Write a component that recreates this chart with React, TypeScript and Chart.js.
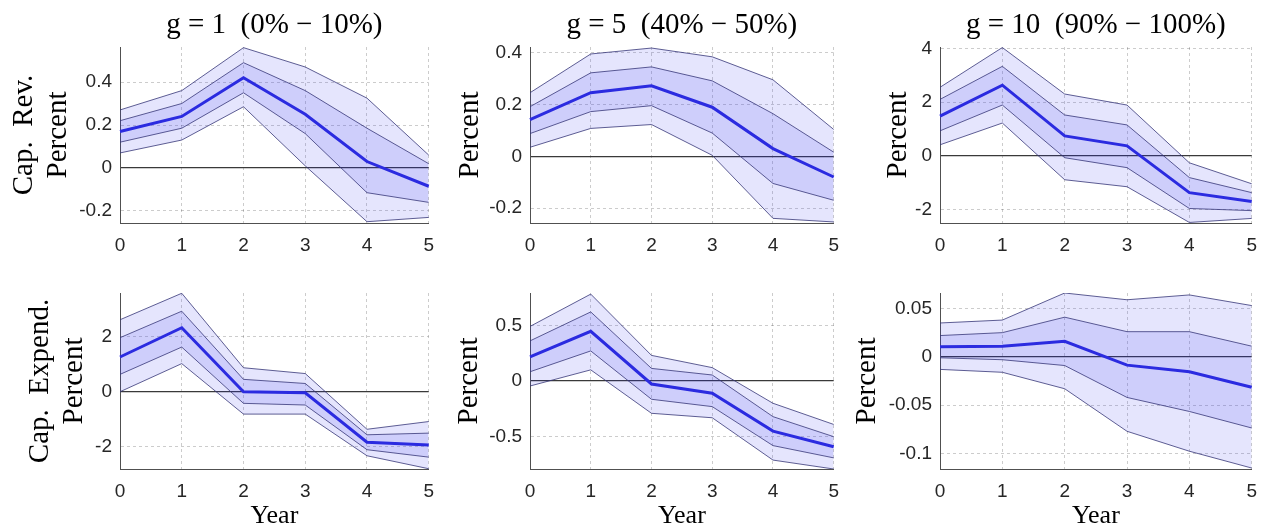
import React, { useEffect, useRef } from 'react';
import { Chart, registerables } from 'chart.js';

Chart.register(...registerables);

// ---------------- data ----------------
const YEARS = ['0', '1', '2', '3', '4', '5'];

const COLUMN_TITLES = ['g = 1  (0% − 10%)', 'g = 5  (40% − 50%)', 'g = 10  (90% − 100%)'];
const ROW_LABELS_REV = ['Cap.  Rev.', 'Percent'];
const ROW_LABELS_EXP = ['Cap.  Expend.', 'Percent'];
const PERCENT_LABEL = ['Percent'];
const X_LABEL = 'Year';

// Capital revenue, g = 1
const REV_G1_OUTER_HI = [0.27, 0.36, 0.56, 0.47, 0.325, 0.06];
const REV_G1_INNER_HI = [0.22, 0.30, 0.49, 0.36, 0.185, 0.02];
const REV_G1_MEAN = [0.17, 0.24, 0.42, 0.25, 0.03, -0.085];
const REV_G1_INNER_LO = [0.12, 0.185, 0.35, 0.16, -0.115, -0.16];
const REV_G1_OUTER_LO = [0.07, 0.13, 0.285, 0.01, -0.25, -0.23];
const REV_G1_LIMITS = [-0.256, 0.563];
const REV_G1_TICKS = [-0.2, 0, 0.2, 0.4];

// Capital revenue, g = 5
const REV_G5_OUTER_HI = [0.246, 0.396, 0.419, 0.385, 0.296, 0.104];
const REV_G5_INNER_HI = [0.192, 0.323, 0.346, 0.292, 0.165, 0.016];
const REV_G5_MEAN = [0.142, 0.246, 0.273, 0.19, 0.03, -0.08];
const REV_G5_INNER_LO = [0.088, 0.173, 0.196, 0.09, -0.105, -0.17];
const REV_G5_OUTER_LO = [0.035, 0.108, 0.123, 0.004, -0.24, -0.254];
const REV_G5_LIMITS = [-0.258, 0.423];
const REV_G5_TICKS = [-0.2, 0, 0.2, 0.4];

// Capital revenue, g = 10
const REV_G10_OUTER_HI = [2.55, 4.03, 2.3, 1.89, -0.26, -1.04];
const REV_G10_INNER_HI = [2.1, 3.33, 1.52, 1.15, -0.81, -1.37];
const REV_G10_MEAN = [1.48, 2.63, 0.74, 0.37, -1.37, -1.7];
const REV_G10_INNER_LO = [0.93, 1.89, -0.07, -0.44, -1.96, -2.04];
const REV_G10_OUTER_LO = [0.41, 1.22, -0.89, -1.15, -2.48, -2.33];
const REV_G10_LIMITS = [-2.5, 4.05];
const REV_G10_TICKS = [-2, 0, 2, 4];

// Capital expenditure, g = 1
const EXP_G1_OUTER_HI = [2.61, 3.57, 0.87, 0.66, -1.36, -1.08];
const EXP_G1_INNER_HI = [1.96, 2.92, 0.45, 0.3, -1.56, -1.5];
const EXP_G1_MEAN = [1.26, 2.32, 0.0, -0.04, -1.83, -1.93];
const EXP_G1_INNER_LO = [0.63, 1.62, -0.42, -0.48, -2.1, -2.37];
const EXP_G1_OUTER_LO = [0.0, 1.02, -0.81, -0.81, -2.32, -2.79];
const EXP_G1_LIMITS = [-2.8, 3.58];
const EXP_G1_TICKS = [-2, 0, 2];

// Capital expenditure, g = 5
const EXP_G5_OUTER_HI = [0.49, 0.78, 0.23, 0.12, -0.2, -0.39];
const EXP_G5_INNER_HI = [0.36, 0.62, 0.113, 0.054, -0.32, -0.5];
const EXP_G5_MEAN = [0.217, 0.446, -0.027, -0.11, -0.45, -0.59];
const EXP_G5_INNER_LO = [0.083, 0.27, -0.164, -0.23, -0.58, -0.69];
const EXP_G5_OUTER_LO = [-0.045, 0.1, -0.29, -0.33, -0.71, -0.79];
const EXP_G5_LIMITS = [-0.79, 0.79];
const EXP_G5_TICKS = [-0.5, 0, 0.5];

// Capital expenditure, g = 10
const EXP_G10_OUTER_HI = [0.035, 0.038, 0.066, 0.059, 0.064, 0.053];
const EXP_G10_INNER_HI = [0.022, 0.025, 0.041, 0.026, 0.026, 0.011];
const EXP_G10_MEAN = [0.0103, 0.011, 0.016, -0.0086, -0.0154, -0.0315];
const EXP_G10_INNER_LO = [-0.001, -0.003, -0.009, -0.042, -0.0565, -0.0736];
const EXP_G10_OUTER_LO = [-0.013, -0.016, -0.033, -0.077, -0.0976, -0.115];
const EXP_G10_LIMITS = [-0.116, 0.066];
const EXP_G10_TICKS = [-0.1, -0.05, 0, 0.05];

// ---------------- layout & style ----------------
const COL_CANVAS_X = [[0, 445], [445, 850], [850, 1268]];
const COL_PLOT_X = [[120, 430], [530, 841], [940, 1252]];
const ROW_CANVAS_Y = [[0, 258], [258, 531]];
const ROW_PLOT_Y = [[47, 223], [293, 469]];
const YTITLE_CENTER_X = [[24, 470, 898], [40, 469, 867]];

const SERIF = '"Liberation Serif", "Times New Roman", serif';
const SANS = '"Liberation Sans", Arial, Helvetica, sans-serif';
const BAND_FILL = 'rgba(45, 45, 235, 0.12)';
const BAND_EDGE = 'rgba(55, 55, 120, 0.8)';
const MEAN_COLOR = '#2b2be0';
const GRID_COLOR = 'rgba(0, 0, 0, 0.2)';
const ZERO_COLOR = '#3a3a3a';
const AXIS_COLOR = '#505050';
const TICK_COLOR = '#262626';
const YTITLE_LINE = 34;

type PanelSpec = {
  row: number;
  col: number;
  yLabel: string[];
  outerHi: number[];
  innerHi: number[];
  mean: number[];
  innerLo: number[];
  outerLo: number[];
  limits: number[];
  ticks: number[];
};

const PANELS: PanelSpec[] = [
  { row: 0, col: 0, yLabel: ROW_LABELS_REV, outerHi: REV_G1_OUTER_HI, innerHi: REV_G1_INNER_HI, mean: REV_G1_MEAN, innerLo: REV_G1_INNER_LO, outerLo: REV_G1_OUTER_LO, limits: REV_G1_LIMITS, ticks: REV_G1_TICKS },
  { row: 0, col: 1, yLabel: PERCENT_LABEL, outerHi: REV_G5_OUTER_HI, innerHi: REV_G5_INNER_HI, mean: REV_G5_MEAN, innerLo: REV_G5_INNER_LO, outerLo: REV_G5_OUTER_LO, limits: REV_G5_LIMITS, ticks: REV_G5_TICKS },
  { row: 0, col: 2, yLabel: PERCENT_LABEL, outerHi: REV_G10_OUTER_HI, innerHi: REV_G10_INNER_HI, mean: REV_G10_MEAN, innerLo: REV_G10_INNER_LO, outerLo: REV_G10_OUTER_LO, limits: REV_G10_LIMITS, ticks: REV_G10_TICKS },
  { row: 1, col: 0, yLabel: ROW_LABELS_EXP, outerHi: EXP_G1_OUTER_HI, innerHi: EXP_G1_INNER_HI, mean: EXP_G1_MEAN, innerLo: EXP_G1_INNER_LO, outerLo: EXP_G1_OUTER_LO, limits: EXP_G1_LIMITS, ticks: EXP_G1_TICKS },
  { row: 1, col: 1, yLabel: PERCENT_LABEL, outerHi: EXP_G5_OUTER_HI, innerHi: EXP_G5_INNER_HI, mean: EXP_G5_MEAN, innerLo: EXP_G5_INNER_LO, outerLo: EXP_G5_OUTER_LO, limits: EXP_G5_LIMITS, ticks: EXP_G5_TICKS },
  { row: 1, col: 2, yLabel: PERCENT_LABEL, outerHi: EXP_G10_OUTER_HI, innerHi: EXP_G10_INNER_HI, mean: EXP_G10_MEAN, innerLo: EXP_G10_INNER_LO, outerLo: EXP_G10_OUTER_LO, limits: EXP_G10_LIMITS, ticks: EXP_G10_TICKS },
];

function Panel({ spec }: { spec: PanelSpec }) {
  const ref = useRef<HTMLCanvasElement | null>(null);
  const { row, col } = spec;
  const [cx0, cx1] = COL_CANVAS_X[col];
  const [cy0, cy1] = ROW_CANVAS_Y[row];
  const [px0, px1] = COL_PLOT_X[col];
  const [py0, py1] = ROW_PLOT_Y[row];
  const w = cx1 - cx0;
  const h = cy1 - cy0;

  useEffect(() => {
    if (!ref.current) return;
    const padLeft = Math.max(0, YTITLE_CENTER_X[row][col] - cx0 - YTITLE_LINE / 2);
    const yWidth = px0 - cx0 - padLeft;
    const xHeight = cy1 - py1;
    const isZero = (c: any) => c && c.tick && Math.abs(c.tick.value) < 1e-12;

    const edge = { borderColor: BAND_EDGE, borderWidth: 1, pointRadius: 0, tension: 0 };
    const chart = new Chart(ref.current, {
      type: 'line',
      data: {
        labels: YEARS,
        datasets: [
          { ...edge, data: spec.outerHi, fill: 1, backgroundColor: BAND_FILL, order: 5 },
          { ...edge, data: spec.outerLo, fill: false, order: 4 },
          { ...edge, data: spec.innerHi, fill: 3, backgroundColor: BAND_FILL, order: 3 },
          { ...edge, data: spec.innerLo, fill: false, order: 2 },
          { data: spec.mean, borderColor: MEAN_COLOR, borderWidth: 3, pointRadius: 0, tension: 0, fill: false, order: 1 },
        ],
      },
      options: {
        animation: false,
        responsive: false,
        events: [],
        layout: {
          padding: {
            left: padLeft,
            right: cx1 - px1,
            top: row === 0 ? 0 : py0 - cy0,
            bottom: 0,
          },
        },
        plugins: {
          legend: { display: false },
          tooltip: { enabled: false },
          title: {
            display: row === 0,
            text: COLUMN_TITLES[col],
            fullSize: false,
            color: '#000',
            font: { family: SERIF, size: 29, weight: 'normal', lineHeight: '30px' },
            padding: { top: 10, bottom: py0 - cy0 - 40 },
          },
        },
        scales: {
          x: {
            type: 'category',
            offset: false,
            grid: { color: GRID_COLOR, drawTicks: false, lineWidth: 1 },
            border: { display: true, color: AXIS_COLOR, width: 1, dash: [3, 3] },
            ticks: { color: TICK_COLOR, font: { family: SANS, size: 19 }, padding: 11, maxRotation: 0, autoSkip: false },
            title: {
              display: row === 1,
              text: X_LABEL,
              color: '#000',
              font: { family: SERIF, size: 26, lineHeight: '30px' },
              padding: { top: 0, bottom: 0 },
            },
            afterFit: (s: any) => {
              s.height = xHeight;
            },
          },
          y: {
            type: 'linear',
            min: spec.limits[0],
            max: spec.limits[1],
            afterBuildTicks: (s: any) => {
              s.ticks = spec.ticks.map((v) => ({ value: v }));
            },
            grid: {
              drawTicks: false,
              color: (c: any) => (isZero(c) ? ZERO_COLOR : GRID_COLOR),
              lineWidth: (c: any) => (isZero(c) ? 1.2 : 1),
            },
            border: {
              display: true,
              color: AXIS_COLOR,
              width: 1,
              dash: (c: any) => (isZero(c) ? [] : [3, 3]),
            },
            ticks: {
              color: TICK_COLOR,
              font: { family: SANS, size: 19 },
              padding: 8,
              callback: (v: any) => String(Math.round(Number(v) * 1e6) / 1e6),
            },
            title: {
              display: true,
              text: spec.yLabel,
              color: '#000',
              font: { family: SERIF, size: 29, lineHeight: YTITLE_LINE + 'px' },
              padding: { top: 0, bottom: 0 },
            },
            afterFit: (s: any) => {
              s.width = yWidth;
            },
          },
        },
      } as any,
    });
    return () => chart.destroy();
  }, [spec]);

  return (
    <canvas
      ref={ref}
      width={w}
      height={h}
      style={{ position: 'absolute', left: cx0, top: cy0, width: w, height: h }}
    />
  );
}

export default function App() {
  return (
    <div
      style={{
        position: 'fixed',
        left: 0,
        top: 0,
        width: 1268,
        height: 531,
        background: '#fff',
        overflow: 'hidden',
      }}
    >
      {PANELS.map((p) => (
        <Panel key={`${p.row}-${p.col}`} spec={p} />
      ))}
    </div>
  );
}
